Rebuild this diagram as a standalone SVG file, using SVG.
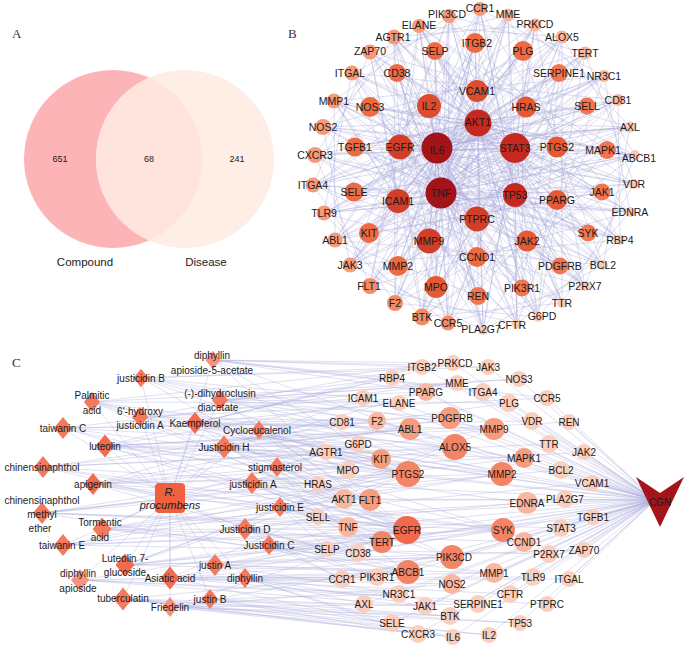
<svg xmlns="http://www.w3.org/2000/svg" width="685" height="654" viewBox="0 0 685 654">
<style>
text{font-family:"Liberation Sans",Arial,sans-serif;fill:#1b1b1b}
.pl{font-family:"Liberation Serif","Times New Roman",serif;font-size:13px;fill:#333}
.t{font-size:10px;text-anchor:middle;dominant-baseline:central}
#nodes-B .t{font-size:10.5px}
.e{fill:none;stroke:#A8A8DA;stroke-width:0.75;stroke-opacity:0.5}
.ec{fill:none;stroke:#AEAEDC;stroke-width:0.7;stroke-opacity:0.55}
.k0{fill:#FBC8B6}.k1{fill:#F9B49C}.k2{fill:#F79A7A}.k3{fill:#F58B65}.k4{fill:#F17650}.k5{fill:#EE6A42}.k6{fill:#E65934}.k7{fill:#DC4D30}.k8{fill:#D13F29}.k9{fill:#C4281E}.k10{fill:#A31419}
.q0{fill:#FBCFBE}.q1{fill:#F9B7A0}.q2{fill:#F69C7F}.q3{fill:#F48466}.q4{fill:#F26A4C}
.d0{fill:#F47A5E}.d1{fill:#F26A50}.d2{fill:#F7937A}
</style>
<defs>
<path id="dm" d="M0-11L9 0L0 11L-9 0Z"/>
<clipPath id="cl"><circle cx="113" cy="159" r="89"/></clipPath>
</defs>
<rect width="685" height="654" fill="#fff"/>

<!-- Panel A -->
<text class="pl" x="12" y="38">A</text>
<g id="venn">
<circle cx="113" cy="159" r="89" fill="#FDB4B6"/>
<circle cx="185" cy="159" r="89" fill="#FEEEE5"/>
<circle cx="185" cy="159" r="89" fill="#FEE4DC" clip-path="url(#cl)"/>
<text x="60" y="159" font-size="9" text-anchor="middle" dominant-baseline="central">651</text>
<text x="149" y="159" font-size="9" text-anchor="middle" dominant-baseline="central">68</text>
<text x="237" y="159" font-size="9" text-anchor="middle" dominant-baseline="central">241</text>
<text x="85" y="262" font-size="11.5" text-anchor="middle" dominant-baseline="central">Compound</text>
<text x="206" y="262" font-size="11.5" text-anchor="middle" dominant-baseline="central">Disease</text>
</g>

<!-- Panel B -->
<text class="pl" x="288" y="38">B</text>
<g id="edges-B">
<path class="e" d="M437 150L449 16M437 150L480 9M437 150L508 15M437 150L535 25M437 150L562 37M437 150L585 53M437 150L604 76M437 150L618 100M437 150L630 127M437 150L635 155M437 150L634 184M437 150L630 212M437 150L620 240M437 150L603 265M437 150L585 286M437 150L562 303M437 150L538 317M437 150L517 324M437 150L483 330M437 150L448 323M437 150L422 317M437 150L395 303M437 150L370 286M437 150L350 265M437 150L335 240M437 150L324 213M437 150L313 185M437 150L315 155M437 150L323 127M437 150L334 101M437 150L352 73M437 150L370 52M437 150L394 37M437 150L419 26M437 150L435 51M437 150L475 43M437 150L523 51M437 150L559 73M437 150L587 106M437 150L607 150M437 150L602 192M437 150L588 233M437 150L560 266M437 150L522 288M437 150L478 296M437 150L436 287M437 150L398 266M437 150L369 233M437 150L354 192M437 150L355 147M437 150L370 107M437 150L397 73M437 150L475 91M437 150L429 106M437 150L526 107M437 150L557 147M437 150L557 200M437 150L527 241M437 150L477 257M437 150L429 241M437 150L398 201M437 150L400 147M437 150L478 122M437 150L515 148M437 150L515 195M437 150L477 219M437 150L441 193"/>
<path class="e" d="M441 193L449 16M441 193L480 9M441 193L508 15M441 193L535 25M441 193L562 37M441 193L585 53M441 193L604 76M441 193L618 100M441 193L630 127M441 193L635 155M441 193L634 184M441 193L630 212M441 193L620 240M441 193L603 265M441 193L585 286M441 193L562 303M441 193L538 317M441 193L517 324M441 193L483 330M441 193L448 323M441 193L422 317M441 193L395 303M441 193L370 286M441 193L350 265M441 193L335 240M441 193L324 213M441 193L313 185M441 193L315 155M441 193L323 127M441 193L334 101M441 193L352 73M441 193L370 52M441 193L394 37M441 193L419 26M441 193L435 51M441 193L475 43M441 193L523 51M441 193L559 73M441 193L587 106M441 193L607 150M441 193L602 192M441 193L588 233M441 193L560 266M441 193L522 288M441 193L478 296M441 193L436 287M441 193L398 266M441 193L369 233M441 193L354 192M441 193L355 147M441 193L370 107M441 193L397 73M441 193L475 91M441 193L429 106M441 193L526 107M441 193L557 147M441 193L557 200M441 193L527 241M441 193L477 257M441 193L429 241M441 193L398 201M441 193L400 147M441 193L478 122M441 193L515 148M441 193L515 195M441 193L477 219"/>
<path class="e" d="M478 122L449 16M478 122L480 9M478 122L508 15M478 122L535 25M478 122L562 37M478 122L585 53M478 122L604 76M478 122L618 100M478 122L630 127M478 122L635 155M478 122L634 184M478 122L630 212M478 122L620 240M478 122L603 265M478 122L585 286M478 122L562 303M478 122L538 317M478 122L517 324M478 122L483 330M478 122L448 323M478 122L422 317M478 122L395 303M478 122L370 286M478 122L350 265M478 122L335 240M478 122L324 213M478 122L313 185M478 122L315 155M478 122L323 127M478 122L334 101M478 122L352 73M478 122L370 52M478 122L394 37M478 122L419 26M478 122L435 51M478 122L475 43M478 122L523 51M478 122L559 73M478 122L587 106M478 122L607 150M478 122L602 192M478 122L588 233M478 122L560 266M478 122L522 288M478 122L478 296M478 122L436 287M478 122L398 266M478 122L369 233M478 122L354 192M478 122L355 147M478 122L370 107M478 122L397 73"/>
<path class="e" d="M515 148L449 16M515 148L480 9M515 148L508 15M515 148L535 25M515 148L562 37M515 148L585 53M515 148L604 76M515 148L618 100M515 148L630 127M515 148L635 155M515 148L634 184M515 148L630 212M515 148L620 240M515 148L603 265M515 148L585 286M515 148L562 303M515 148L538 317M515 148L517 324M515 148L483 330M515 148L448 323M515 148L422 317M515 148L395 303M515 148L370 286M515 148L350 265M515 148L335 240M515 148L324 213M515 148L313 185M515 148L315 155M515 148L323 127M515 148L334 101M515 148L352 73M515 148L370 52M515 148L394 37M515 148L419 26"/>
<path class="e" d="M400 147L449 16M400 147L508 15M400 147L562 37M400 147L604 76M400 147L630 127M400 147L634 184M400 147L620 240M400 147L585 286M400 147L538 317M400 147L483 330M400 147L422 317M400 147L370 286M400 147L335 240M400 147L313 185M400 147L323 127M400 147L352 73M400 147L394 37M515 195L480 9M515 195L535 25M515 195L585 53M515 195L618 100M515 195L635 155M515 195L630 212M515 195L603 265M515 195L562 303M515 195L517 324M515 195L448 323M515 195L395 303M515 195L350 265M515 195L324 213M515 195L315 155M515 195L334 101M515 195L370 52M515 195L419 26M398 201L480 9M398 201L535 25M398 201L585 53M398 201L618 100M398 201L635 155M398 201L630 212M398 201L603 265M398 201L562 303M398 201L517 324M398 201L448 323M398 201L395 303M398 201L350 265M398 201L324 213M398 201L315 155M398 201L334 101M398 201L370 52M398 201L419 26"/>
<path class="e" d="M449 16L630 212L370 286L419 26L634 184L395 303L394 37L635 155L422 317L370 52L630 127L448 323L352 73L618 100L483 330L334 101L604 76L517 324L323 127L585 53L538 317L315 155L562 37L562 303L313 185L535 25L585 286L324 213L508 15L603 265L335 240L480 9L620 240L350 265Z"/>
<path class="e" d="M449 16L585 53L634 184L562 303L422 317L324 213L352 73L480 9L604 76L630 212L538 317L395 303L313 185L370 52L508 15L618 100L620 240L517 324L370 286L315 155L394 37L535 25L630 127L603 265L483 330L350 265L323 127L419 26L562 37L635 155L585 286L448 323L335 240L334 101Z"/>
<path class="e" d="M449 16L562 303L352 73L630 212L313 185L618 100L370 286L535 25L483 330L419 26L585 286L334 101L634 184L324 213L604 76L395 303L508 15L517 324L394 37L603 265L323 127L635 155L335 240L585 53L422 317L480 9L538 317L370 52L620 240L315 155L630 127L350 265L562 37L448 323Z"/>
<path class="e" d="M435 51L588 233L354 192L559 73L478 296L397 73L602 192L369 233L523 51L522 288L370 107L607 150L398 266L475 43L560 266L355 147L587 106L436 287Z"/>
<path class="e" d="M449 16L522 288L562 37L398 266L630 127L355 147L620 240L435 51L538 317L559 73L422 317L602 192L335 240L478 296L334 101L588 233L394 37L436 287L508 15L369 233L604 76L354 192L635 155L370 107L585 286L397 73L483 330L475 43L350 265L523 51L313 185L560 266L419 26L607 150"/>
</g>
<g id="nodes-B">
<g id="b-PIK3CD"><circle cx="449" cy="16" r="7" class="k2"/><text class="t" x="447" y="14">PIK3CD</text></g>
<g id="b-CCR1"><circle cx="480" cy="9" r="7" class="k2"/><text class="t" x="480" y="8">CCR1</text></g>
<g id="b-MME"><circle cx="508" cy="15" r="6.5" class="k1"/><text class="t" x="508" y="14">MME</text></g>
<g id="b-PRKCD"><circle cx="535" cy="25" r="6.5" class="k1"/><text class="t" x="535" y="24">PRKCD</text></g>
<g id="b-ALOX5"><circle cx="562" cy="37" r="6.5" class="k1"/><text class="t" x="562" y="37">ALOX5</text></g>
<g id="b-TERT"><circle cx="585" cy="53" r="6.5" class="k1"/><text class="t" x="585" y="53">TERT</text></g>
<g id="b-NR3C1"><circle cx="604" cy="76" r="6" class="k1"/><text class="t" x="604" y="76">NR3C1</text></g>
<g id="b-CD81"><circle cx="618" cy="100" r="6" class="k1"/><text class="t" x="618" y="100">CD81</text></g>
<g id="b-AXL"><circle cx="630" cy="127" r="5.5" class="k0"/><text class="t" x="630" y="127">AXL</text></g>
<g id="b-ABCB1"><circle cx="635" cy="155" r="5" class="k0"/><text class="t" x="639" y="158">ABCB1</text></g>
<g id="b-VDR"><circle cx="634" cy="184" r="5" class="k0"/><text class="t" x="634" y="184">VDR</text></g>
<g id="b-EDNRA"><circle cx="630" cy="212" r="5" class="k0"/><text class="t" x="630" y="212">EDNRA</text></g>
<g id="b-RBP4"><circle cx="620" cy="240" r="5" class="k0"/><text class="t" x="620" y="240">RBP4</text></g>
<g id="b-BCL2"><circle cx="603" cy="265" r="5" class="k0"/><text class="t" x="603" y="265">BCL2</text></g>
<g id="b-P2RX7"><circle cx="585" cy="286" r="5" class="k0"/><text class="t" x="585" y="286">P2RX7</text></g>
<g id="b-TTR"><circle cx="562" cy="303" r="5" class="k0"/><text class="t" x="562" y="303">TTR</text></g>
<g id="b-G6PD"><circle cx="538" cy="317" r="5" class="k0"/><text class="t" x="542" y="316">G6PD</text></g>
<g id="b-CFTR"><circle cx="517" cy="324" r="5" class="k0"/><text class="t" x="512" y="325">CFTR</text></g>
<g id="b-PLA2G7"><circle cx="483" cy="330" r="5" class="k0"/><text class="t" x="481" y="329">PLA2G7</text></g>
<g id="b-CCR5"><circle cx="448" cy="323" r="7.5" class="k3"/><text class="t" x="448" y="323">CCR5</text></g>
<g id="b-BTK"><circle cx="422" cy="317" r="8.5" class="k3"/><text class="t" x="422" y="317">BTK</text></g>
<g id="b-F2"><circle cx="395" cy="303" r="8" class="k3"/><text class="t" x="395" y="303">F2</text></g>
<g id="b-FLT1"><circle cx="370" cy="286" r="8" class="k3"/><text class="t" x="369" y="286">FLT1</text></g>
<g id="b-JAK3"><circle cx="350" cy="265" r="7.5" class="k2"/><text class="t" x="350" y="265">JAK3</text></g>
<g id="b-ABL1"><circle cx="335" cy="240" r="7.5" class="k2"/><text class="t" x="335" y="240">ABL1</text></g>
<g id="b-TLR9"><circle cx="324" cy="213" r="7.5" class="k2"/><text class="t" x="324" y="213">TLR9</text></g>
<g id="b-ITGA4"><circle cx="313" cy="185" r="7.5" class="k2"/><text class="t" x="313" y="185">ITGA4</text></g>
<g id="b-CXCR3"><circle cx="315" cy="155" r="8" class="k2"/><text class="t" x="315" y="155">CXCR3</text></g>
<g id="b-NOS2"><circle cx="323" cy="127" r="8" class="k2"/><text class="t" x="323" y="127">NOS2</text></g>
<g id="b-MMP1"><circle cx="334" cy="101" r="7.5" class="k2"/><text class="t" x="334" y="101">MMP1</text></g>
<g id="b-ITGAL"><circle cx="352" cy="73" r="7.5" class="k2"/><text class="t" x="350" y="73">ITGAL</text></g>
<g id="b-ZAP70"><circle cx="370" cy="52" r="7.5" class="k2"/><text class="t" x="370" y="51">ZAP70</text></g>
<g id="b-AGTR1"><circle cx="394" cy="37" r="7.5" class="k2"/><text class="t" x="393" y="37">AGTR1</text></g>
<g id="b-ELANE"><circle cx="419" cy="26" r="7" class="k2"/><text class="t" x="419" y="25">ELANE</text></g>
<g id="b-SELP"><circle cx="435" cy="51" r="9" class="k5"/><text class="t" x="435" y="51">SELP</text></g>
<g id="b-ITGB2"><circle cx="475" cy="43" r="10" class="k5"/><text class="t" x="477" y="43">ITGB2</text></g>
<g id="b-PLG"><circle cx="523" cy="51" r="10" class="k5"/><text class="t" x="523" y="51">PLG</text></g>
<g id="b-SERPINE1"><circle cx="559" cy="73" r="9" class="k4"/><text class="t" x="559" y="73">SERPINE1</text></g>
<g id="b-SELL"><circle cx="587" cy="106" r="8.5" class="k4"/><text class="t" x="587" y="106">SELL</text></g>
<g id="b-MAPK1"><circle cx="607" cy="150" r="9" class="k4"/><text class="t" x="603" y="150">MAPK1</text></g>
<g id="b-JAK1"><circle cx="602" cy="192" r="8.5" class="k4"/><text class="t" x="602" y="192">JAK1</text></g>
<g id="b-SYK"><circle cx="588" cy="233" r="8.5" class="k4"/><text class="t" x="588" y="233">SYK</text></g>
<g id="b-PDGFRB"><circle cx="560" cy="266" r="8.5" class="k4"/><text class="t" x="560" y="266">PDGFRB</text></g>
<g id="b-PIK3R1"><circle cx="522" cy="288" r="8.5" class="k4"/><text class="t" x="522" y="288">PIK3R1</text></g>
<g id="b-REN"><circle cx="478" cy="296" r="9" class="k4"/><text class="t" x="478" y="296">REN</text></g>
<g id="b-MPO"><circle cx="436" cy="287" r="11" class="k6"/><text class="t" x="436" y="287">MPO</text></g>
<g id="b-MMP2"><circle cx="398" cy="266" r="10" class="k5"/><text class="t" x="398" y="266">MMP2</text></g>
<g id="b-KIT"><circle cx="369" cy="233" r="10" class="k5"/><text class="t" x="369" y="233">KIT</text></g>
<g id="b-SELE"><circle cx="354" cy="192" r="9.5" class="k5"/><text class="t" x="354" y="192">SELE</text></g>
<g id="b-TGFB1"><circle cx="355" cy="147" r="9.5" class="k5"/><text class="t" x="355" y="147">TGFB1</text></g>
<g id="b-NOS3"><circle cx="370" cy="107" r="10" class="k5"/><text class="t" x="370" y="107">NOS3</text></g>
<g id="b-CD38"><circle cx="397" cy="73" r="9" class="k5"/><text class="t" x="397" y="73">CD38</text></g>
<g id="b-VCAM1"><circle cx="477" cy="91" r="11" class="k7"/><text class="t" x="477" y="91">VCAM1</text></g>
<g id="b-IL2"><circle cx="429" cy="106" r="12" class="k7"/><text class="t" x="429" y="106">IL2</text></g>
<g id="b-HRAS"><circle cx="526" cy="107" r="10.5" class="k6"/><text class="t" x="526" y="107">HRAS</text></g>
<g id="b-PTGS2"><circle cx="557" cy="147" r="10.5" class="k6"/><text class="t" x="557" y="147">PTGS2</text></g>
<g id="b-PPARG"><circle cx="557" cy="200" r="10" class="k6"/><text class="t" x="557" y="200">PPARG</text></g>
<g id="b-JAK2"><circle cx="527" cy="241" r="10.5" class="k6"/><text class="t" x="527" y="241">JAK2</text></g>
<g id="b-CCND1"><circle cx="477" cy="257" r="10" class="k5"/><text class="t" x="477" y="257">CCND1</text></g>
<g id="b-MMP9"><circle cx="429" cy="241" r="12.5" class="k8"/><text class="t" x="429" y="241">MMP9</text></g>
<g id="b-ICAM1"><circle cx="398" cy="201" r="12" class="k8"/><text class="t" x="398" y="201">ICAM1</text></g>
<g id="b-EGFR"><circle cx="400" cy="147" r="12.5" class="k8"/><text class="t" x="400" y="147">EGFR</text></g>
<g id="b-AKT1"><circle cx="478" cy="123" r="13.5" class="k9"/><text class="t" x="478" y="122">AKT1</text></g>
<g id="b-STAT3"><circle cx="515" cy="148" r="15" class="k9"/><text class="t" x="515" y="148">STAT3</text></g>
<g id="b-TP53"><circle cx="515" cy="195" r="12" class="k9"/><text class="t" x="515" y="195">TP53</text></g>
<g id="b-PTPRC"><circle cx="477" cy="219" r="12.5" class="k8"/><text class="t" x="477" y="219">PTPRC</text></g>
<g id="b-IL6"><circle cx="437" cy="148" r="15.5" class="k10"/><text class="t" x="437" y="150">IL6</text></g>
<g id="b-TNF"><circle cx="441" cy="193" r="15.5" class="k10"/><text class="t" x="441" y="193">TNF</text></g>
</g>

<!-- Panel C -->
<text class="pl" x="12" y="367">C</text>
<g id="edges-C">
<path class="ec" d="M170 498L213 360M170 498L141 378M170 498L92 402M170 498L220 400M170 498L140 417M170 498L195 423M170 498L63 428M170 498L259 430M170 498L105 446M170 498L224 447M170 498L43 467M170 498L93 484M170 498L277 467M170 498L252 483M170 498L42 513M170 498L102 529M170 498L63 545M170 498L280 507M170 498L245 529M170 498L269 545M170 498L125 565M170 498L215 565M170 498L170 578M170 498L80 580M170 498L245 578M170 498L123 599M170 498L210 599M170 498L170 607"/>
<path class="ec" d="M213 360L422 367M213 360L453 363M213 360L488 367M213 360L392 378M213 360L426 392M213 360L483 392M213 360L408 474M213 360L407 530M213 360L455 447M213 360L547 398M141 378L422 367M141 378L488 367M141 378L363 398M141 378L410 429M141 378L408 474M141 378L407 530M141 378L494 429M141 378L502 474M92 402L453 363M92 402L519 379M92 402L399 403M92 402L381 459M92 402L408 474M92 402L524 458M92 402L407 530M92 402L503 530M220 400L392 378M220 400L457 383M220 400L426 392M220 400L377 421M220 400L450 418M220 400L509 403M220 400L455 447M220 400L407 530M220 400L519 379M140 417L422 367M140 417L363 398M140 417L377 421M140 417L408 474M140 417L547 398M140 417L502 474M140 417L452 557M195 423L453 363M195 423L392 378M195 423L399 403M195 423L410 429M195 423L450 418M195 423L381 459M195 423L455 447M195 423L408 474M195 423L494 429M195 423L407 530M195 423L408 572M195 423L502 474M63 428L457 383M63 428L342 422M63 428L358 444M63 428L408 474M63 428L532 421M63 428L407 530M63 428L503 530M259 430L342 422M259 430L377 421M259 430L358 444M259 430L326 452M259 430L348 470M259 430L408 474M259 430L344 499M259 430L370 500"/>
<path class="ec" d="M105 446L422 367M105 446L426 392M105 446L410 429M105 446L381 459M105 446L455 447M105 446L408 474M105 446L494 429M105 446L569 422M105 446L524 458M105 446L407 530M105 446L452 557M105 446L527 503M224 447L363 398M224 447L342 422M224 447L410 429M224 447L358 444M224 447L381 459M224 447L348 470M224 447L408 474M224 447L502 474M224 447L370 500M224 447L407 530M43 467L410 429M43 467L455 447M43 467L318 484M43 467L509 403M43 467L549 444M43 467L407 530M43 467L503 530M93 484L426 392M93 484L450 418M93 484L381 459M93 484L408 474M93 484L494 429M93 484L584 452M93 484L502 474M93 484L370 500M93 484L407 530M93 484L408 572M93 484L503 530M277 467L358 444M277 467L326 452M277 467L348 470M277 467L318 484M277 467L344 499M277 467L318 517M277 467L348 527M252 483L326 452M252 483L348 470M252 483L318 484M252 483L344 499M252 483L370 500M252 483L348 527M252 483L382 542M252 483L407 530"/>
<path class="ec" d="M42 513L455 447M42 513L408 474M42 513L524 458M42 513L561 470M42 513L407 530M42 513L408 572M42 513L503 530M42 513L561 528M102 529L408 474M102 529L502 474M102 529L592 483M102 529L407 530M102 529L452 557M102 529L527 503M102 529L524 542M102 529L494 573M63 545L408 474M63 545L502 474M63 545L407 530M63 545L565 499M63 545L503 530M63 545L549 554M280 507L344 499M280 507L318 517M280 507L348 527M280 507L382 542M280 507L327 549M280 507L358 553M280 507L407 530M245 529L318 517M245 529L348 527M245 529L327 549M245 529L358 553M245 529L342 579M245 529L377 577M245 529L382 542M269 545L348 527M269 545L382 542M269 545L358 553M269 545L342 579M269 545L377 577M269 545L408 572M269 545L407 530"/>
<path class="ec" d="M125 565L455 447M125 565L408 474M125 565L494 429M125 565L407 530M125 565L452 557M125 565L408 572M125 565L593 517M125 565L503 530M125 565L584 550M215 565L407 530M215 565L382 542M215 565L408 572M215 565L399 594M215 565L452 557M215 565L494 573M170 578L408 474M170 578L407 530M170 578L452 557M170 578L452 584M170 578L453 637M170 578L503 530M170 578L494 573M170 578L533 577M170 578L510 594M170 578L478 604M80 580L407 530M80 580L408 572M80 580L399 594M80 580L425 606M80 580L569 579M80 580L547 604M245 578L342 579M245 578L377 577M245 578L399 594M245 578L364 604M245 578L425 606M245 578L392 623M245 578L418 634M123 599L408 572M123 599L425 606M123 599L450 616M123 599L392 623M123 599L418 634M123 599L453 637M123 599L520 623M123 599L489 635M210 599L399 594M210 599L364 604M210 599L392 623M210 599L418 634M210 599L450 616M170 607L407 530M170 607L452 557M170 607L452 584M170 607L450 616M170 607L453 637M170 607L478 604M170 607L520 623M170 607L489 635"/>
<path class="ec" d="M422 367L655 500M453 363L655 500M392 378L655 500M457 383L655 500M363 398L655 500M426 392L655 500M399 403L655 500M342 422L655 500M377 421L655 500M410 429L655 500M450 418L655 500M358 444L655 500M326 452L655 500M381 459L655 500M455 447L655 500M348 470L655 500M408 474L655 500M318 484L655 500M488 367L655 500M519 379L655 500M483 392L655 500M509 403L655 500M547 398L655 500M494 429L655 500M532 421L655 500M569 422L655 500M549 444L655 500M584 452L655 500M524 458L655 500M502 474L655 500M561 470L655 500M592 483L655 500M344 499L655 500M370 500L655 500M318 517L655 500M348 527L655 500M407 530L655 500M382 542L655 500M327 549L655 500M358 553L655 500M452 557L655 500M342 579L655 500M377 577L655 500M408 572L655 500M452 584L655 500M399 594L655 500M364 604L655 500M425 606L655 500M450 616L655 500M392 623L655 500M418 634L655 500M453 637L655 500M527 503L655 500M565 499L655 500M593 517L655 500M503 530L655 500M561 528L655 500M524 542L655 500M549 554L655 500M584 550L655 500M494 573L655 500M533 577L655 500M569 579L655 500M510 594L655 500M478 604L655 500M547 604L655 500M520 623L655 500M489 635L655 500"/>
</g>

<g id="compounds-C">
<g id="c-diphyllin-apioside-5-acetate"><use href="#dm" transform="translate(213 360) scale(.85)" class="d2"/><text class="t" x="212" y="355">diphyllin</text><text class="t" x="212" y="370">apioside-5-acetate</text></g>
<g id="c-justicidin-B"><use href="#dm" transform="translate(141 378) scale(.85)" class="d0"/><text class="t" x="141" y="378">justicidin B</text></g>
<g id="c-palmitic-acid"><use href="#dm" transform="translate(92 402) scale(.9)" class="d0"/><text class="t" x="92" y="395">Palmitic</text><text class="t" x="92" y="410">acid</text></g>
<g id="c-dihydroclusin"><use href="#dm" transform="translate(220 400) scale(.9)" class="d0"/><text class="t" x="220" y="393">(-)-dihydroclusin</text><text class="t" x="218" y="407">diacetate</text></g>
<g id="c-6-hydroxy-justicidin-A"><use href="#dm" transform="translate(140 417) scale(.9)" class="d0"/><text class="t" x="140" y="411">6'-hydroxy</text><text class="t" x="140" y="425">justicidin A</text></g>
<g id="c-kaempferol"><use href="#dm" transform="translate(195 423)" class="d1"/><text class="t" x="195" y="423">Kaempferol</text></g>
<g id="c-taiwanin-C"><use href="#dm" transform="translate(63 428)" class="d0"/><text class="t" x="63" y="428">taiwanin C</text></g>
<g id="c-cycloeucalenol"><use href="#dm" transform="translate(259 430) scale(.85)" class="d0"/><text class="t" x="257" y="430">Cycloeucalenol</text></g>
<g id="c-luteolin"><use href="#dm" transform="translate(105 446) scale(1.05)" class="d1"/><text class="t" x="105" y="446">luteolin</text></g>
<g id="c-justicidin-H"><use href="#dm" transform="translate(224 447) scale(1.05)" class="d0"/><text class="t" x="224" y="447">Justicidin H</text></g>
<g id="c-chinensinaphthol"><use href="#dm" transform="translate(43 467)" class="d0"/><text class="t" x="42" y="467">chinensinaphthol</text></g>
<g id="c-apigenin"><use href="#dm" transform="translate(93 484)" class="d1"/><text class="t" x="93" y="484">apigenin</text></g>
<g id="c-stigmasterol"><use href="#dm" transform="translate(277 467) scale(.9)" class="d0"/><text class="t" x="275" y="467">stigmasterol</text></g>
<g id="c-justicidin-A"><use href="#dm" transform="translate(252 483)" class="d0"/><text class="t" x="253" y="484">justicidin A</text></g>
<g id="c-chinensinaphthol-methyl-ether"><use href="#dm" transform="translate(42 513)" class="d0"/><text class="t" x="42" y="500">chinensinaphthol</text><text class="t" x="42" y="514">methyl</text><text class="t" x="40" y="528">ether</text></g>
<g id="c-tormentic-acid"><use href="#dm" transform="translate(102 529) scale(1.05)" class="d0"/><text class="t" x="100" y="522">Tormentic</text><text class="t" x="100" y="537">acid</text></g>
<g id="c-taiwanin-E"><use href="#dm" transform="translate(63 545)" class="d0"/><text class="t" x="62" y="545">taiwanin E</text></g>
<g id="c-justicidin-E"><use href="#dm" transform="translate(280 507) scale(.9)" class="d0"/><text class="t" x="280" y="507">justicidin E</text></g>
<g id="c-justicidin-D"><use href="#dm" transform="translate(245 529)" class="d0"/><text class="t" x="245" y="529">Justicidin D</text></g>
<g id="c-justicidin-C"><use href="#dm" transform="translate(269 545) scale(.9)" class="d0"/><text class="t" x="269" y="545">Justicidin C</text></g>
<g id="c-luteolin-7-glucoside"><use href="#dm" transform="translate(125 565) scale(1.05)" class="d1"/><text class="t" x="125" y="558">Luteolin 7-</text><text class="t" x="125" y="572">glucoside</text></g>
<g id="c-justin-A"><use href="#dm" transform="translate(215 565)" class="d0"/><text class="t" x="215" y="565">justin A</text></g>
<g id="c-asiatic-acid"><use href="#dm" transform="translate(170 578) scale(1.05)" class="d1"/><text class="t" x="170" y="578">Asiatic acid</text></g>
<g id="c-diphyllin-apioside"><use href="#dm" transform="translate(80 580)" class="d2"/><text class="t" x="78" y="573">diphyllin</text><text class="t" x="78" y="588">apioside</text></g>
<g id="c-diphyllin"><use href="#dm" transform="translate(245 578) scale(.9)" class="d0"/><text class="t" x="245" y="578">diphyllin</text></g>
<g id="c-tuberculatin"><use href="#dm" transform="translate(123 599) scale(1.05)" class="d0"/><text class="t" x="123" y="598">tuberculatin</text></g>
<g id="c-justin-B"><use href="#dm" transform="translate(210 599) scale(.9)" class="d0"/><text class="t" x="210" y="599">justin B</text></g>
<g id="c-friedelin"><use href="#dm" transform="translate(170 607) scale(.9)" class="d2"/><text class="t" x="170" y="607">Friedelin</text></g>
</g>

<g id="c-R-procumbens"><rect x="155" y="483" width="30" height="30" rx="4" fill="#F0603E"/><text x="170" y="492" font-family="Liberation Serif,Times New Roman,serif" font-style="italic" font-size="11" text-anchor="middle" dominant-baseline="central" fill="#222">R.</text><text x="170" y="505" font-family="Liberation Serif,Times New Roman,serif" font-style="italic" font-size="11" text-anchor="middle" dominant-baseline="central" fill="#222">procumbens</text></g>

<g id="targets-C">
<g id="c-ITGB2"><circle cx="422" cy="367" r="8" class="q0"/><text class="t" x="422" y="367">ITGB2</text></g>
<g id="c-PRKCD"><circle cx="453" cy="363" r="8" class="q0"/><text class="t" x="455" y="363">PRKCD</text></g>
<g id="c-RBP4"><circle cx="392" cy="378" r="8" class="q0"/><text class="t" x="392" y="378">RBP4</text></g>
<g id="c-MME"><circle cx="457" cy="383" r="8" class="q0"/><text class="t" x="457" y="383">MME</text></g>
<g id="c-ICAM1"><circle cx="363" cy="398" r="8" class="q0"/><text class="t" x="363" y="398">ICAM1</text></g>
<g id="c-PPARG"><circle cx="426" cy="392" r="9" class="q1"/><text class="t" x="426" y="392">PPARG</text></g>
<g id="c-ELANE"><circle cx="399" cy="403" r="8" class="q0"/><text class="t" x="399" y="403">ELANE</text></g>
<g id="c-CD81"><circle cx="342" cy="422" r="8" class="q0"/><text class="t" x="342" y="422">CD81</text></g>
<g id="c-F2"><circle cx="377" cy="421" r="9" class="q1"/><text class="t" x="377" y="421">F2</text></g>
<g id="c-ABL1"><circle cx="410" cy="429" r="11" class="q2"/><text class="t" x="410" y="429">ABL1</text></g>
<g id="c-PDGFRB"><circle cx="450" cy="418" r="11" class="q2"/><text class="t" x="452" y="418">PDGFRB</text></g>
<g id="c-G6PD"><circle cx="358" cy="444" r="8" class="q0"/><text class="t" x="358" y="444">G6PD</text></g>
<g id="c-AGTR1"><circle cx="326" cy="452" r="8" class="q0"/><text class="t" x="326" y="452">AGTR1</text></g>
<g id="c-KIT"><circle cx="381" cy="459" r="10" class="q2"/><text class="t" x="381" y="459">KIT</text></g>
<g id="c-ALOX5"><circle cx="455" cy="447" r="13" class="q3"/><text class="t" x="455" y="447">ALOX5</text></g>
<g id="c-MPO"><circle cx="348" cy="470" r="9" class="q0"/><text class="t" x="348" y="470">MPO</text></g>
<g id="c-PTGS2"><circle cx="408" cy="474" r="13" class="q3"/><text class="t" x="408" y="474">PTGS2</text></g>
<g id="c-HRAS"><circle cx="318" cy="484" r="8" class="q0"/><text class="t" x="318" y="484">HRAS</text></g>
<g id="c-JAK3"><circle cx="488" cy="367" r="8" class="q0"/><text class="t" x="488" y="367">JAK3</text></g>
<g id="c-NOS3"><circle cx="519" cy="379" r="8" class="q0"/><text class="t" x="519" y="379">NOS3</text></g>
<g id="c-ITGA4"><circle cx="483" cy="392" r="9" class="q0"/><text class="t" x="483" y="392">ITGA4</text></g>
<g id="c-PLG"><circle cx="509" cy="403" r="9" class="q0"/><text class="t" x="509" y="403">PLG</text></g>
<g id="c-CCR5"><circle cx="547" cy="398" r="8" class="q0"/><text class="t" x="547" y="398">CCR5</text></g>
<g id="c-MMP9"><circle cx="494" cy="429" r="11" class="q2"/><text class="t" x="494" y="429">MMP9</text></g>
<g id="c-VDR"><circle cx="532" cy="421" r="9" class="q0"/><text class="t" x="532" y="421">VDR</text></g>
<g id="c-REN"><circle cx="569" cy="422" r="8" class="q0"/><text class="t" x="569" y="422">REN</text></g>
<g id="c-TTR"><circle cx="549" cy="444" r="9" class="q0"/><text class="t" x="549" y="444">TTR</text></g>
<g id="c-JAK2"><circle cx="584" cy="452" r="8" class="q0"/><text class="t" x="584" y="452">JAK2</text></g>
<g id="c-MAPK1"><circle cx="524" cy="458" r="10" class="q2"/><text class="t" x="524" y="458">MAPK1</text></g>
<g id="c-MMP2"><circle cx="502" cy="474" r="12" class="q3"/><text class="t" x="502" y="474">MMP2</text></g>
<g id="c-BCL2"><circle cx="561" cy="470" r="9" class="q0"/><text class="t" x="561" y="470">BCL2</text></g>
<g id="c-VCAM1"><circle cx="592" cy="483" r="8" class="q0"/><text class="t" x="592" y="483">VCAM1</text></g>
<g id="c-AKT1"><circle cx="344" cy="499" r="10" class="q1"/><text class="t" x="344" y="499">AKT1</text></g>
<g id="c-FLT1"><circle cx="370" cy="500" r="11" class="q2"/><text class="t" x="370" y="500">FLT1</text></g>
<g id="c-SELL"><circle cx="318" cy="517" r="8" class="q0"/><text class="t" x="318" y="517">SELL</text></g>
<g id="c-TNF"><circle cx="348" cy="527" r="10" class="q1"/><text class="t" x="348" y="527">TNF</text></g>
<g id="c-EGFR"><circle cx="407" cy="530" r="14" class="q4"/><text class="t" x="407" y="530">EGFR</text></g>
<g id="c-TERT"><circle cx="382" cy="542" r="11" class="q3"/><text class="t" x="382" y="542">TERT</text></g>
<g id="c-SELP"><circle cx="327" cy="549" r="8" class="q0"/><text class="t" x="327" y="549">SELP</text></g>
<g id="c-CD38"><circle cx="358" cy="553" r="9" class="q0"/><text class="t" x="358" y="553">CD38</text></g>
<g id="c-PIK3CD"><circle cx="452" cy="557" r="12" class="q3"/><text class="t" x="454" y="557">PIK3CD</text></g>
<g id="c-CCR1"><circle cx="342" cy="579" r="9" class="q0"/><text class="t" x="342" y="579">CCR1</text></g>
<g id="c-PIK3R1"><circle cx="377" cy="577" r="9" class="q0"/><text class="t" x="377" y="577">PIK3R1</text></g>
<g id="c-ABCB1"><circle cx="408" cy="572" r="12" class="q3"/><text class="t" x="408" y="572">ABCB1</text></g>
<g id="c-NOS2"><circle cx="452" cy="584" r="10" class="q1"/><text class="t" x="452" y="584">NOS2</text></g>
<g id="c-NR3C1"><circle cx="399" cy="594" r="9" class="q0"/><text class="t" x="399" y="594">NR3C1</text></g>
<g id="c-AXL"><circle cx="364" cy="604" r="9" class="q0"/><text class="t" x="364" y="604">AXL</text></g>
<g id="c-JAK1"><circle cx="425" cy="606" r="9" class="q0"/><text class="t" x="425" y="606">JAK1</text></g>
<g id="c-BTK"><circle cx="450" cy="616" r="9" class="q0"/><text class="t" x="450" y="616">BTK</text></g>
<g id="c-SELE"><circle cx="392" cy="623" r="9" class="q0"/><text class="t" x="392" y="623">SELE</text></g>
<g id="c-CXCR3"><circle cx="418" cy="634" r="9" class="q0"/><text class="t" x="418" y="634">CXCR3</text></g>
<g id="c-IL6"><circle cx="453" cy="637" r="8" class="q0"/><text class="t" x="453" y="637">IL6</text></g>
<g id="c-EDNRA"><circle cx="527" cy="503" r="11" class="q1"/><text class="t" x="527" y="503">EDNRA</text></g>
<g id="c-PLA2G7"><circle cx="565" cy="499" r="9" class="q0"/><text class="t" x="565" y="499">PLA2G7</text></g>
<g id="c-TGFB1"><circle cx="593" cy="517" r="8" class="q0"/><text class="t" x="593" y="517">TGFB1</text></g>
<g id="c-SYK"><circle cx="503" cy="530" r="12" class="q3"/><text class="t" x="503" y="530">SYK</text></g>
<g id="c-STAT3"><circle cx="561" cy="528" r="9" class="q0"/><text class="t" x="561" y="528">STAT3</text></g>
<g id="c-CCND1"><circle cx="524" cy="542" r="10" class="q1"/><text class="t" x="524" y="542">CCND1</text></g>
<g id="c-P2RX7"><circle cx="549" cy="554" r="9" class="q0"/><text class="t" x="549" y="554">P2RX7</text></g>
<g id="c-ZAP70"><circle cx="584" cy="550" r="8" class="q0"/><text class="t" x="584" y="550">ZAP70</text></g>
<g id="c-MMP1"><circle cx="494" cy="573" r="10" class="q1"/><text class="t" x="494" y="573">MMP1</text></g>
<g id="c-TLR9"><circle cx="533" cy="577" r="9" class="q0"/><text class="t" x="533" y="577">TLR9</text></g>
<g id="c-ITGAL"><circle cx="569" cy="579" r="8" class="q0"/><text class="t" x="569" y="579">ITGAL</text></g>
<g id="c-CFTR"><circle cx="510" cy="594" r="9" class="q0"/><text class="t" x="510" y="594">CFTR</text></g>
<g id="c-SERPINE1"><circle cx="478" cy="604" r="9" class="q0"/><text class="t" x="478" y="604">SERPINE1</text></g>
<g id="c-PTPRC"><circle cx="547" cy="604" r="8" class="q0"/><text class="t" x="547" y="604">PTPRC</text></g>
<g id="c-TP53"><circle cx="520" cy="623" r="8" class="q0"/><text class="t" x="520" y="623">TP53</text></g>
<g id="c-IL2"><circle cx="489" cy="635" r="8" class="q0"/><text class="t" x="489" y="635">IL2</text></g>
</g>

<g id="c-CGN"><polygon points="636,477 660,493 684,477 660,527" fill="#A3141B"/><text class="t" x="660" y="502" fill="#3a0a0a">CGN</text></g>
</svg>
